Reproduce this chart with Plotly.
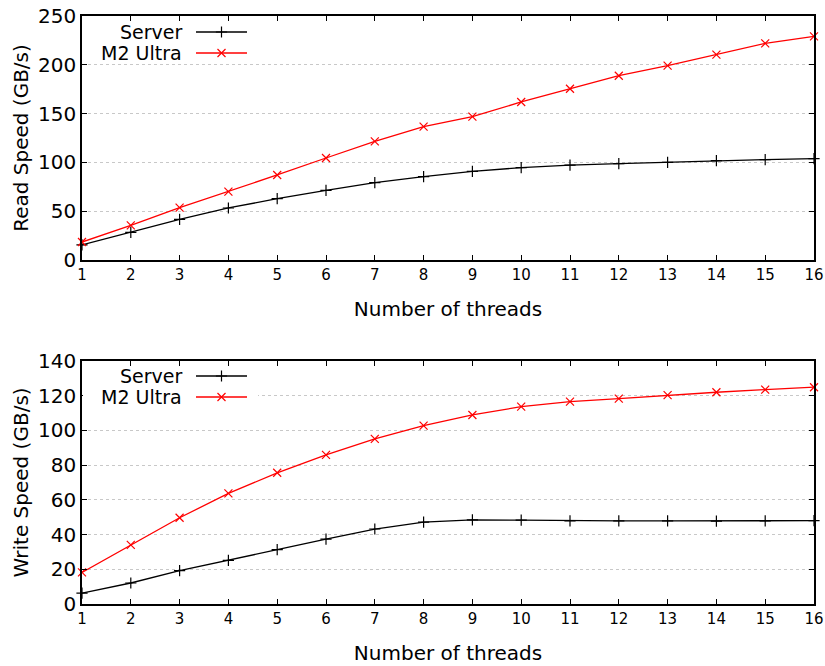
import plotly.graph_objects as go

threads = list(range(1, 17))
read_server = [15.4, 28.4, 41.7, 53.3, 62.8, 71.4, 79.2, 85.4, 90.9, 94.6, 97.3, 98.7, 100.1, 101.8, 102.8, 103.8]
read_m2 = [18.4, 35.5, 53.6, 70.0, 87.1, 104.5, 121.6, 136.6, 146.9, 161.9, 175.5, 188.8, 199.1, 210.4, 222.0, 229.2]
write_server = [6.3, 12.1, 19.2, 25.1, 31.3, 37.4, 43.2, 47.2, 48.5, 48.3, 47.9, 47.9, 47.9, 47.8, 47.9, 48.0]
write_m2 = [18.2, 34.1, 49.7, 63.7, 75.6, 85.9, 95.1, 102.8, 108.9, 113.7, 116.6, 118.3, 120.3, 122.0, 123.5, 124.9]
series_names = ["Server", "M2 Ultra"]
colors = ["#000000", "#ff0000"]
symbols = ["cross-thin", "x-thin"]

FONT = "DejaVu Sans, Verdana, sans-serif"
W, H = 825, 666
PL, PR, PT, PB = 82, 814, 16, 604   # plot-area edges in page pixels
L, R, T, B = PL, W - PR, PT, H - PB

fig = go.Figure()

def add_series(xa, ya, ys):
    for name, vals, c, s in zip(series_names, ys, colors, symbols):
        fig.add_trace(go.Scatter(
            x=threads, y=vals, mode="lines+markers", name=name,
            xaxis=xa, yaxis=ya, cliponaxis=False, showlegend=False,
            line=dict(color=c, width=1.3),
            marker=dict(symbol=s, size=8, line=dict(color=c, width=1.2), color=c),
        ))

add_series("x", "y", [read_server, read_m2])
add_series("x2", "y2", [write_server, write_m2])

# legend samples drawn in page-pixel space of a hidden axis pair
legend_rows = [(32, 53), (376, 397)]
for rows in legend_rows:
    for name, py, c, s in zip(series_names, rows, colors, symbols):
        fig.add_trace(go.Scatter(
            x=[196, 247], y=[py, py], mode="lines", xaxis="x3", yaxis="y3",
            line=dict(color=c, width=1.3), showlegend=False, hoverinfo="skip", cliponaxis=False))
        fig.add_trace(go.Scatter(
            x=[221.5], y=[py], mode="markers", xaxis="x3", yaxis="y3",
            marker=dict(symbol=s, size=8, line=dict(color=c, width=1.2), color=c),
            showlegend=False, hoverinfo="skip", cliponaxis=False))
        fig.add_annotation(x=184, y=py, xref="x3", yref="y3", text=name,
                           showarrow=False, xanchor="right", yanchor="middle",
                           font=dict(family=FONT, size=19, color="black"))

# key box hides the grid line behind the lower legend (page pixels)
fig.add_shape(type="rect", xref="x3", yref="y3", x0=83, x1=258, y0=392, y1=401,
              fillcolor="white", line=dict(width=0), layer="between")

PH = PB - PT
top_dom = [(PB - 260) / PH, 1.0]
bot_dom = [0.0, (PB - 361) / PH]

xcommon = dict(range=[1, 16], tickmode="array", tickvals=threads, automargin=False,
               ticks="inside", ticklen=5, tickcolor="black", mirror="allticks",
               showline=True, linecolor="black", linewidth=1.5, showgrid=False,
               zeroline=False, tickfont=dict(family=FONT, size=15, color="black"),
               title=dict(text="Number of threads", font=dict(family=FONT, size=20, color="black"), standoff=19))
ycommon = dict(ticks="inside", ticklen=5, tickcolor="black", mirror="allticks", automargin=False,
               showline=True, linecolor="black", linewidth=1.5,
               showgrid=True, gridcolor="#c8c8c8", griddash="dot", gridwidth=1,
               zeroline=False, tickfont=dict(family=FONT, size=20, color="black"))

fig.update_layout(
    width=W, height=H, margin=dict(l=L, r=R, t=T, b=B, autoexpand=False),
    paper_bgcolor="white", plot_bgcolor="rgba(0,0,0,0)",
    font=dict(family=FONT, color="black"),
    xaxis=dict(domain=[0, 1], anchor="y", **xcommon),
    yaxis=dict(domain=top_dom, anchor="x", range=[0, 250], dtick=50,
               title=dict(text="Read Speed (GB/s)", font=dict(family=FONT, size=20, color="black"), standoff=4),
               **ycommon),
    xaxis2=dict(domain=[0, 1], anchor="y2", **xcommon),
    yaxis2=dict(domain=bot_dom, anchor="x2", range=[0, 140], dtick=20,
                title=dict(text="Write Speed (GB/s)", font=dict(family=FONT, size=20, color="black"), standoff=4),
                **ycommon),
    xaxis3=dict(domain=[0, 1], range=[PL, PR], visible=False, anchor="y3", automargin=False),
    yaxis3=dict(domain=[0, 1], range=[PB, PT], visible=False, anchor="x3", automargin=False),
)

fig.write_html("out.html", config={"displayModeBar": False},
               post_script="document.body.style.margin='0';document.body.style.overflow='hidden';")
